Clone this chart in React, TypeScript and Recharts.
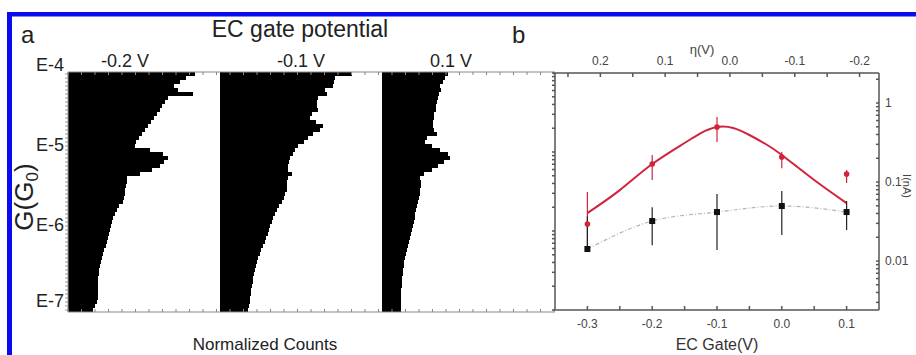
import React from "react";
import {
  BarChart,
  Bar,
  ComposedChart,
  Line,
  Scatter,
  ErrorBar,
  XAxis,
  YAxis,
} from "recharts";

const FONT = '"Liberation Sans", Arial, sans-serif';
const RED = "#d0243c";
const BLUE = "#0b0bf0";

// panel a: conductance histograms, 60 log bins from 1e-4 (top) to 1e-7 (bottom)
const decadeLabels = ["E-4", "E-5", "E-6", "E-7"];
const decadeBins = [0, 20, 40, 59];
const histLabels = ["-0.2 V", "-0.1 V", "0.1 V"];

const countsNeg02 = [
  127, 118, 112, 106, 110, 125, 100, 97, 94, 92,
  89, 86, 83, 80, 77, 74, 71, 68, 67, 82,
  95, 100, 96, 92, 84, 72, 59, 59, 58, 57,
  57, 56, 55, 51, 49, 47, 45, 44, 43, 42,
  41, 40, 39, 38, 36, 35, 34, 33, 32, 31,
  31, 30, 30, 30, 30, 30, 30, 29, 27, 25,
];
const countsNeg01 = [
  132, 115, 114, 113, 105, 107, 98, 97, 97, 98,
  92, 90, 96, 103, 100, 93, 88, 84, 78, 75,
  73, 70, 69, 68, 68, 72, 68, 67, 67, 67,
  65, 64, 62, 59, 57, 55, 53, 52, 50, 49,
  48, 46, 45, 43, 41, 40, 38, 37, 36, 35,
  34, 33, 33, 32, 31, 31, 30, 30, 29, 28,
];
const countsPos01 = [
  66, 63, 61, 58, 59, 57, 56, 55, 54, 54,
  52, 52, 51, 51, 52, 55, 45, 43, 50, 58,
  66, 68, 62, 56, 50, 42, 38, 39, 39, 38,
  38, 37, 36, 35, 34, 33, 33, 32, 31, 30,
  29, 28, 27, 26, 25, 24, 23, 22, 22, 21,
  21, 20, 20, 20, 19, 19, 19, 19, 19, 19,
];

// panel b
const gateTicks = [-0.3, -0.2, -0.1, 0, 0.1];
const gateTickLabels = ["-0.3", "-0.2", "-0.1", "0.0", "0.1"];
const etaTicks = [0.2, 0.1, 0, -0.1, -0.2];
const etaTickLabels = ["0.2", "0.1", "0.0", "-0.1", "-0.2"];
const rateTicks = [0.01, 0.1, 1];
const rateTickLabels = ["0.01", "0.1", "1"];

const pointGate = [-0.3, -0.2, -0.1, 0, 0.1];
const redValue = [0.0294, 0.169, 0.497, 0.207, 0.126];
const redLow = [0.015, 0.106, 0.321, 0.15, 0.097];
const redHigh = [0.075, 0.22, 0.665, 0.24, 0.142];
const blackValue = [0.0142, 0.0321, 0.0417, 0.0497, 0.0417];
const blackLow = [0.0142, 0.0159, 0.0138, 0.0214, 0.0247];
const blackHigh = [0.037, 0.048, 0.0706, 0.0771, 0.0575];

const fitGate = [-0.3, -0.25, -0.2, -0.15, -0.125, -0.1, -0.075, -0.05, -0.025, 0, 0.05, 0.1];
const fitValue = [0.0405, 0.079, 0.169, 0.312, 0.417, 0.497, 0.483, 0.394, 0.303, 0.22, 0.106, 0.054];

const histData = countsNeg02.map((c, i) => ({
  bin: (-4.025 - 0.05 * i).toFixed(3),
  neg02: c,
  neg01: countsNeg01[i],
  pos01: countsPos01[i],
}));

const redData = pointGate.map((g, i) => ({
  gate: g,
  v: redValue[i],
  err: [redValue[i] - redLow[i], redHigh[i] - redValue[i]],
}));
const blackData = pointGate.map((g, i) => ({
  gate: g,
  v: blackValue[i],
  err: [blackValue[i] - blackLow[i], blackHigh[i] - blackValue[i]],
}));
const fitData = fitGate.map((g, i) => ({ gate: g, v: fitValue[i] }));

// minor tick marks along the histogram frame (axis units = px of panel width)
const frameTicks = Array.from({ length: 37 }, (_, i) => i * 13.5);
const logMinor = (from: number, to: number) => {
  const out: number[] = [];
  for (let d = from; d <= to; d++) for (let m = 1; m < 10; m++) out.push(m * Math.pow(10, d));
  return out;
};
const rightTicks = logMinor(-3, 0).filter((t) => t >= 0.0025 && t <= 2.4);
const leftTicks = logMinor(-2, 1).filter((t) => t >= 0.01 && t <= 10);

const labelFor = (ticks: number[], labels: string[]) => (v: number) => {
  const k = ticks.findIndex((t) => Math.abs(t - v) < 1e-9);
  return k < 0 ? "" : labels[k];
};
// top axis runs on -eta so it reads high-to-low left-to-right
const negEtaTicks = [-0.25, -0.2, -0.15, -0.1, -0.05, 0, 0.05, 0.1, 0.15, 0.2];
const etaFormatter = (v: number) => labelFor(etaTicks, etaTickLabels)(-v);
// the eta axis needs a series bound to it to draw its ticks
const etaAnchor = [
  { negEta: -0.2, v: 1 },
  { negEta: 0.2, v: 1 },
];

function DecadeTick(props: any) {
  const { x, y, index } = props;
  const k = decadeBins.indexOf(index);
  if (k < 0) return <g />;
  return (
    <text x={x} y={y - 3} textAnchor="end" fontSize={18} fontFamily={FONT} fill="#222">
      {decadeLabels[k]}
    </text>
  );
}

const tickStyle = { fontSize: 12, fontFamily: FONT, fill: "#444" };

export default function App() {
  return (
    <div
      style={{
        position: "absolute",
        left: 0,
        top: 0,
        width: 916,
        height: 355,
        background: "#fff",
        overflow: "hidden",
      }}
    >
      <div style={{ position: "absolute", left: 0, top: 0 }}>
        <BarChart
          layout="vertical"
          width={560}
          height={355}
          data={histData}
          margin={{ top: 71, right: 5, bottom: 42, left: 0 }}
          barCategoryGap={0}
          barGap={0}
        >
          <YAxis
            yAxisId="p1"
            type="category"
            dataKey="bin"
            width={68}
            interval={0}
            tick={<DecadeTick />}
            tickSize={3}
            tickMargin={1}
            stroke="#999"
          />
          <YAxis yAxisId="p2" type="category" dataKey="bin" hide />
          <YAxis yAxisId="p3" type="category" dataKey="bin" hide />
          <XAxis
            xAxisId="p1"
            type="number"
            orientation="bottom"
            domain={[0, 487]}
            allowDataOverflow
            ticks={frameTicks}
            interval={0}
            height={1}
            tickSize={-3}
            tickFormatter={() => ""}
            stroke="#888"
          />
          <XAxis
            xAxisId="p2"
            type="number"
            orientation="top"
            domain={[-152, 335]}
            allowDataOverflow
            ticks={frameTicks.map((t) => t - 152)}
            interval={0}
            height={1}
            tickSize={-3}
            tickFormatter={() => ""}
            stroke="#888"
          />
          <XAxis xAxisId="p3" type="number" domain={[-314, 173]} hide />
          <Bar xAxisId="p1" yAxisId="p1" dataKey="neg02" fill="#000" isAnimationActive={false} />
          <Bar xAxisId="p2" yAxisId="p2" dataKey="neg01" fill="#000" isAnimationActive={false} />
          <Bar xAxisId="p3" yAxisId="p3" dataKey="pos01" fill="#000" isAnimationActive={false} />
        </BarChart>
      </div>

      <div style={{ position: "absolute", left: 500, top: 0 }}>
        <ComposedChart width={416} height={355} margin={{ top: 48, right: 0, bottom: 20, left: 45 }}>
          <XAxis
            xAxisId="gate"
            type="number"
            dataKey="gate"
            domain={[-0.35, 0.15]}
            ticks={[-0.3, -0.25, -0.2, -0.15, -0.1, -0.05, 0, 0.05, 0.1]}
            interval={0}
            tickFormatter={labelFor(gateTicks, gateTickLabels)}
            height={25}
            tickSize={-4}
            tickMargin={13}
            stroke="#555"
            strokeWidth={1.5}
            tick={tickStyle}
            allowDataOverflow
          />
          <XAxis
            xAxisId="eta"
            type="number"
            dataKey="negEta"
            orientation="top"
            domain={[-0.27, 0.23]}
            ticks={negEtaTicks}
            interval={0}
            tickFormatter={etaFormatter}
            height={25}
            tickSize={-4}
            tickMargin={12}
            stroke="#555"
            strokeWidth={1.5}
            tick={tickStyle}
            allowDataOverflow
          />
          <YAxis
            yAxisId="r"
            orientation="right"
            type="number"
            dataKey="v"
            scale="log"
            domain={[0.0024, 2.4]}
            allowDataOverflow
            ticks={rightTicks}
            interval={0}
            tickFormatter={labelFor(rateTicks, rateTickLabels)}
            width={37}
            tickSize={-3}
            tickMargin={9}
            stroke="#555"
            strokeWidth={1.5}
            tick={tickStyle}
          />
          <YAxis
            yAxisId="l"
            orientation="left"
            type="number"
            scale="log"
            domain={[0.01, 10]}
            allowDataOverflow
            ticks={leftTicks}
            interval={0}
            tickFormatter={() => ""}
            width={10}
            tickSize={3}
            stroke="#555"
            strokeWidth={1.5}
          />
          <Line
            xAxisId="eta"
            yAxisId="r"
            data={etaAnchor}
            dataKey="v"
            stroke="none"
            dot={false}
            activeDot={false}
            isAnimationActive={false}
          />
          <Line
            xAxisId="gate"
            yAxisId="r"
            data={fitData}
            dataKey="v"
            type="natural"
            stroke={RED}
            strokeWidth={2}
            dot={false}
            isAnimationActive={false}
          />
          <Line
            xAxisId="gate"
            yAxisId="r"
            data={blackData}
            dataKey="v"
            type="monotone"
            stroke="#b5b5b5"
            strokeWidth={1.2}
            strokeDasharray="4 2 1 2"
            dot={false}
            isAnimationActive={false}
          />
          <Scatter
            xAxisId="gate"
            yAxisId="r"
            data={redData}
            dataKey="v"
            isAnimationActive={false}
            shape={(p: any) => <circle cx={p.cx} cy={p.cy} r={2.8} fill={RED} />}
          >
            <ErrorBar dataKey="err" direction="y" width={0} stroke={RED} strokeWidth={1.2} />
          </Scatter>
          <Scatter
            xAxisId="gate"
            yAxisId="r"
            data={blackData}
            dataKey="v"
            isAnimationActive={false}
            shape={(p: any) => <rect x={p.cx - 3} y={p.cy - 3} width={6} height={6} fill="#111" />}
          >
            <ErrorBar dataKey="err" direction="y" width={0} stroke="#222" strokeWidth={1.2} />
          </Scatter>
        </ComposedChart>
      </div>

      <svg
        width={916}
        height={355}
        style={{ position: "absolute", left: 0, top: 0, pointerEvents: "none" }}
        fontFamily={FONT}
      >
        <rect x={7} y={12} width={909} height={4.5} fill={BLUE} />
        <rect x={7} y={12} width={5} height={343} fill={BLUE} />
        <text x={21} y={43} fontSize={24} fill="#222">a</text>
        <text x={300} y={37} fontSize={23} textAnchor="middle" fill="#222">EC gate potential</text>
        <text x={125} y={67} fontSize={18} textAnchor="middle" fill="#222">{histLabels[0]}</text>
        <text x={301} y={67} fontSize={18} textAnchor="middle" fill="#222">{histLabels[1]}</text>
        <text x={451} y={67} fontSize={18} textAnchor="middle" fill="#222">{histLabels[2]}</text>
        <text x={265} y={350} fontSize={17} textAnchor="middle" fill="#222">Normalized Counts</text>
        <text transform="translate(33,197) rotate(-90)" fontSize={26} textAnchor="middle" fill="#222">
          G(G<tspan dy={5} fontSize={17}>0</tspan>
          <tspan dy={-5}>)</tspan>
        </text>
        <text x={512} y={43} fontSize={24} fill="#222">b</text>
        <text x={702} y={54} fontSize={13} textAnchor="middle" fill="#444">η(V)</text>
        <text x={717} y={350} fontSize={16} textAnchor="middle" fill="#333">EC Gate(V)</text>
        <text transform="translate(903,186) rotate(90)" fontSize={11} textAnchor="middle" fill="#444">I(nA)</text>
      </svg>
    </div>
  );
}
